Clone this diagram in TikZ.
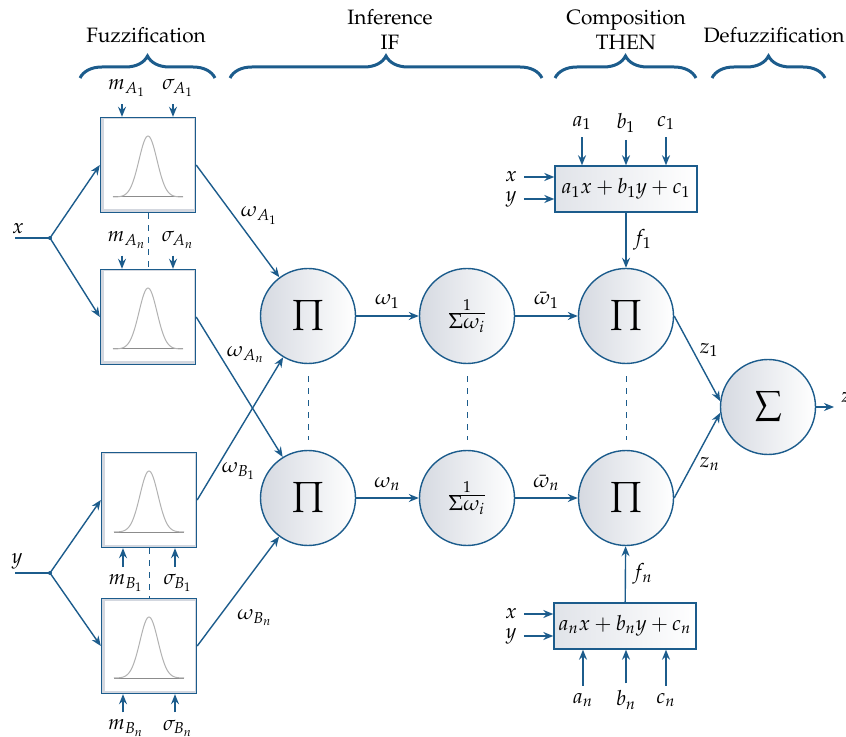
\documentclass[tikz,border=0pt]{standalone}
\usepackage[T1]{fontenc}
\usepackage{mathpazo}
\usetikzlibrary{arrows.meta,decorations.pathreplacing}
\definecolor{netblue}{RGB}{28,92,140}
\definecolor{ballgray}{RGB}{200,205,215}
\begin{document}
\begin{tikzpicture}[x=0.5pt,y=-0.5pt,line width=0.7pt,font=\fontsize{10.4}{12.5}\selectfont,
  arr/.style={draw=netblue,-{Stealth[length=5pt,width=4pt]}},
  dots/.style={draw=netblue,dashed,line width=0.4pt},
  brace/.style={draw=netblue,line width=1.5pt,decorate,decoration={brace,amplitude=11pt}},
  mfbox/.style={draw=netblue,minimum size=47.5pt,inner sep=0pt,fill=ballgray!80,
    path picture={
      \fill[white] ([shift={(1.5pt,1.5pt)}]path picture bounding box.south west)
        rectangle ([shift={(-1pt,-1pt)}]path picture bounding box.north east);
      \begin{scope}[shift={(path picture bounding box.center)},line width=0.5pt]
        \draw[gray!90] (-35,32) -- (35,32);
        \draw[gray!60] plot[domain=-35:35,samples=60,smooth] (\x,{32-61*exp(-((\x)^2)/162)});
      \end{scope}}},
  ball/.style={circle,draw=netblue,minimum size=47.5pt,inner sep=0pt,left color=ballgray!75,right color=white},
  rulebox/.style={draw=netblue,minimum width=71pt,minimum height=23pt,inner sep=1pt,left color=ballgray!55,right color=white}]
\useasboundingbox (0,0) rectangle (846,737);

% stage titles
\node (fuzz) at (146,35) {Fuzzification};
\node[align=center] (infer) at (390,30) {Inference\\IF};
\node[align=center] (comp) at (626,30) {Composition\\THEN};
\node (defuzz) at (774,35) {Defuzzification};
\draw[brace] (80,78) -- (215,78);
\draw[brace] (230,78) -- (542,78);
\draw[brace] (555,78) -- (696,78);
\draw[brace] (712,78) -- (825,78);

% membership functions
\node[mfbox] (A1) at (148,165) {};
\node[mfbox] (An) at (148,317) {};
\node[mfbox] (B1) at (149,500) {};
\node[mfbox] (Bn) at (149,646) {};
\draw[dots] (A1) -- (An);
\draw[dots] (B1) -- (Bn);

\node (mA1) at (127,88) {$m_{A_1}$};
\node (sA1) at (178,88) {$\sigma_{A_1}$};
\node (mAn) at (127,240) {$m_{A_n}$};
\node (sAn) at (178,240) {$\sigma_{A_n}$};
\node (mB1) at (126,583) {$m_{B_1}$};
\node (sB1) at (178,583) {$\sigma_{B_1}$};
\node (mBn) at (126,728) {$m_{B_n}$};
\node (sBn) at (178,728) {$\sigma_{B_n}$};
\foreach \p/\b in {mA1/A1,sA1/A1,mAn/An,sAn/An}
  \draw[arr] ([xshift=-2.5pt]\p.south) -- ([xshift=-2.5pt]\p.south |- \b.north);
\foreach \p/\b in {mB1/B1,sB1/B1,mBn/Bn,sBn/Bn}
  \draw[arr] ([xshift=-1.5pt]\p.north) -- ([xshift=-1.5pt]\p.north |- \b.south);

% inputs
\node (x) at (18,229) {$x$};
\coordinate (xin) at (15,238);
\coordinate (xsplit) at (50,238);
\node (y) at (17,561) {$y$};
\coordinate (yin) at (15,573);
\coordinate (ysplit) at (50,573);
\draw[netblue] (xin) -- (xsplit);
\draw[netblue] (yin) -- (ysplit);
\fill[netblue] (xsplit) circle (1pt) (ysplit) circle (1pt);
\draw[arr] (xsplit) -- (A1.west);
\draw[arr] (xsplit) -- (An.west);
\draw[arr] (ysplit) -- (B1.west);
\draw[arr] (ysplit) -- (Bn.west);

% rule layer
\node[ball] (P1) at (308,316) {\large$\displaystyle\prod$};
\node[ball] (P2) at (308,498) {\large$\displaystyle\prod$};
\node[ball] (N1) at (467,316) {$\frac{1}{\textstyle\Sigma\omega_i}$};
\node[ball] (N2) at (467,498) {$\frac{1}{\textstyle\Sigma\omega_i}$};
\node[ball] (P3) at (626,316) {\large$\displaystyle\prod$};
\node[ball] (P4) at (626,498) {\large$\displaystyle\prod$};
\node[ball] (S) at (768,407) {\large$\displaystyle\sum$};
\foreach \a/\b in {P1/P2,N1/N2,P3/P4}
  \draw[dots,shorten <=6pt,shorten >=5pt] (\a) -- (\b);

\draw[arr] (A1.east) -- node[pos=.45,right] {$\omega_{A_1}$} (P1);
\draw[arr] (An.east) -- node[pos=.27,right] {$\omega_{A_n}$} (P2);
\draw[arr] (B1.east) -- node[pos=.2,right] {$\omega_{B_1}$} (P1);
\draw[arr] (Bn.east) -- node[pos=.4,below right] {$\omega_{B_n}$} (P2);

\draw[arr] (P1) -- node[above] {$\omega_1$} (N1);
\draw[arr] (P2) -- node[above] {$\omega_n$} (N2);
\draw[arr] (N1) -- node[above] {$\bar{\omega}_1$} (P3);
\draw[arr] (N2) -- node[above] {$\bar{\omega}_n$} (P4);

% consequents
\node[rulebox] (R1) at (626,189) {$a_1x+b_1y+c_1$};
\node[rulebox] (Rn) at (625,626) {$a_nx+b_ny+c_n$};
\node (a1) at (582,123) {$a_1$};
\node (b1) at (626,123) {$b_1$};
\node (c1) at (666,123) {$c_1$};
\node (an) at (583,700) {$a_n$};
\node (bn) at (626,700) {$b_n$};
\node (cn) at (666,700) {$c_n$};
\foreach \p in {a1,b1,c1}
  \draw[arr] (\p) -- (\p |- R1.north);
\foreach \p in {an,bn,cn}
  \draw[arr] (\p) -- (\p |- Rn.south);
\node (x1) at (511,177) {$x$};
\node (y1) at (511,199) {$y$};
\node (x2) at (511,614) {$x$};
\node (y2) at (511,636) {$y$};
\draw[arr] (x1) -- (x1 -| R1.west);
\draw[arr] (y1) -- (y1 -| R1.west);
\draw[arr] (x2) -- (x2 -| Rn.west);
\draw[arr] (y2) -- (y2 -| Rn.west);
\draw[arr] (R1) -- node[right] {$f_1$} (P3);
\draw[arr] (Rn) -- node[right] {$f_n$} (P4);

% output
\draw[arr] (P3.east) -- node[pos=.4,right] {$z_1$} (S.173);
\draw[arr] (P4.east) -- node[pos=.4,right] {$z_n$} (S.187);
\node[anchor=west] (z) at (834,398) {$z$};
\draw[arr] (S.east) -- (S.east -| z.west);
\end{tikzpicture}
\end{document}
